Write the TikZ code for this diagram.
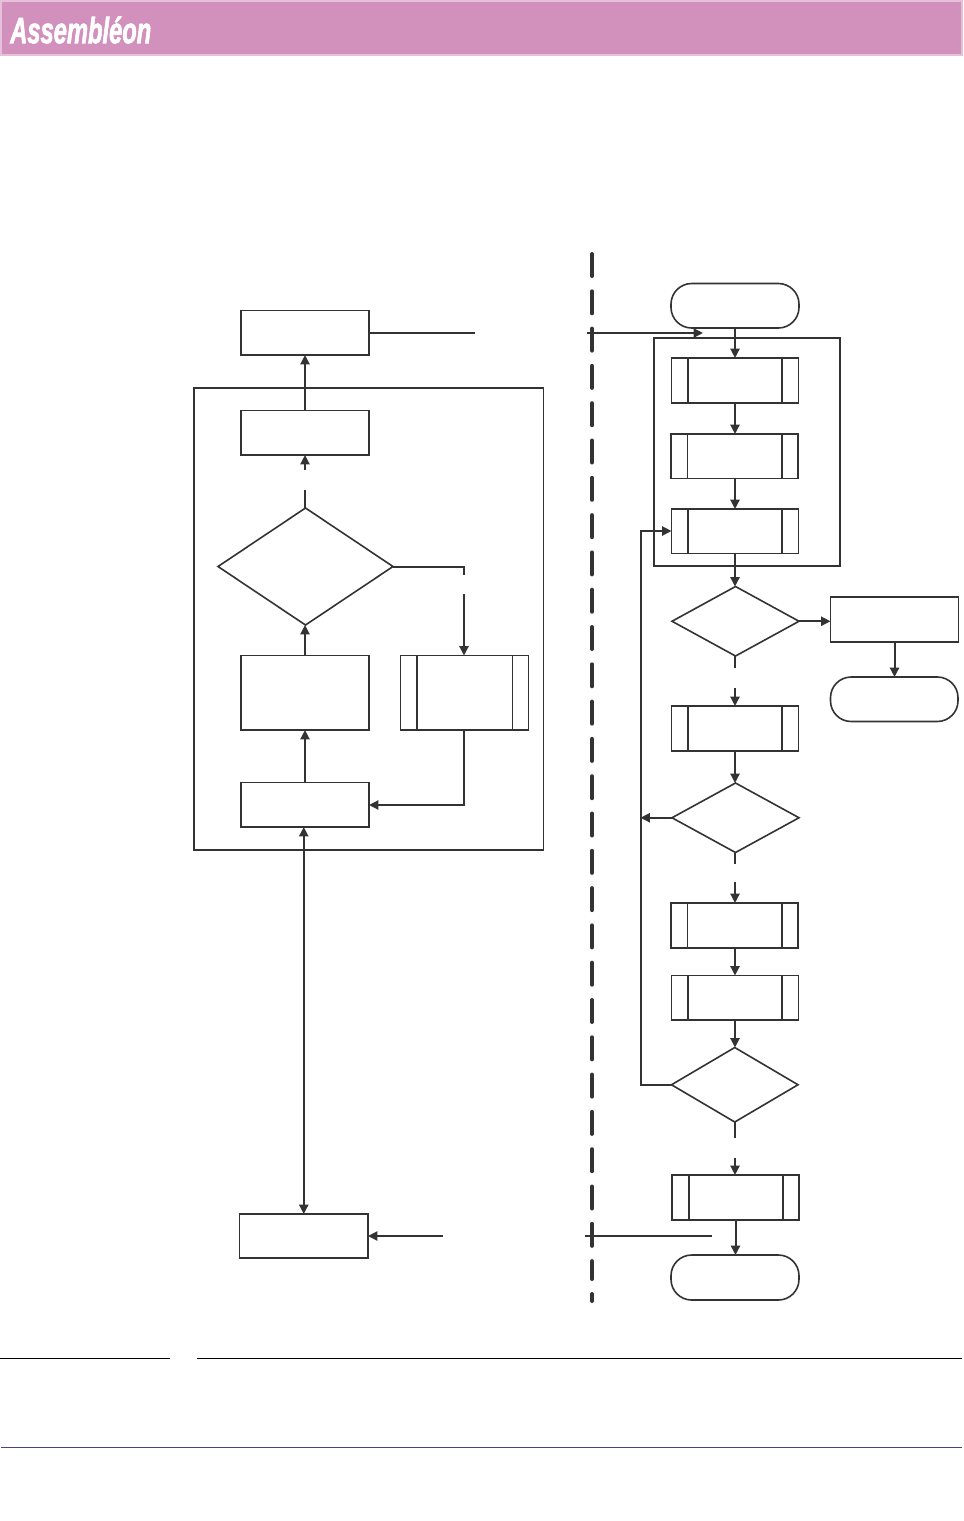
\documentclass[tikz,border=0pt]{standalone}
\usepackage{fontspec}
\usepackage{graphicx}
\usetikzlibrary{arrows.meta,calc,shapes.geometric}
\newfontfamily\logofont[FakeBold=2.2]{Liberation Sans}
\definecolor{ink}{HTML}{333333}
\definecolor{banner}{HTML}{D291BC}
\definecolor{bannerEdge}{HTML}{E6C0D9}
\definecolor{footrule}{HTML}{44447F}
\tikzset{
  ln/.style={draw=ink,line width=1.2pt},
  plainbox/.style={rectangle,ln,outer sep=0pt,inner sep=0pt},
  termbox/.style={plainbox,rounded corners=15.5pt},
  framebox/.style={plainbox,line width=1.4pt},
  dia/.style={diamond,ln,outer sep=0pt,inner sep=0pt},
  conn/.style={draw=ink,line width=1.5pt},
  arr/.style={conn,-{Triangle[length=7pt,width=6.8pt]}},
  arrboth/.style={conn,{Triangle[length=7pt,width=6.8pt]}-{Triangle[length=7pt,width=6.8pt]}},
  thickbar/.style={draw=ink,line width=1.5pt},
  thinbar/.style={draw=ink,line width=0.8pt},
  divider/.style={draw=ink,line width=3pt,line cap=round}
}
\newcommand{\mkbox}[6]{%
  \pgfmathsetmacro\cxx{(#3+#5)/2}\pgfmathsetmacro\cyy{(#4+#6)/2}%
  \pgfmathsetmacro\www{(#5-#3)*0.75}\pgfmathsetmacro\hhh{(#6-#4)*0.75}%
  \node[#1,minimum width=\www pt,minimum height=\hhh pt] (#2) at (\cxx,\cyy) {};}
\newcommand{\mkdia}[5]{%
  \pgfmathsetmacro\cxx{(#2+#4)/2}\pgfmathsetmacro\cyy{(#3+#5)/2}%
  \pgfmathsetmacro\www{(#4-#2)*0.75}\pgfmathsetmacro\hhh{(#5-#3)*0.75}%
  \pgfmathsetmacro\asp{(#4-#2)/(#5-#3)}%
  \node[dia,aspect=\asp,minimum width=\www pt,minimum height=\hhh pt] (#1) at (\cxx,\cyy) {};}
\newcommand{\mksub}[9]{% name x1 y1 x2 y2 leftoffset leftstyle rightoffset rightstyle
  \mkbox{plainbox}{#1}{#2}{#3}{#4}{#5}%
  \draw[#7] ($(#1.north west)+(#6,0)$) -- ($(#1.south west)+(#6,0)$);
  \draw[#9] ($(#1.north east)+(-#8,0)$) -- ($(#1.south east)+(-#8,0)$);}
\begin{document}
\begin{tikzpicture}[x=0.75pt,y=-0.75pt]
\useasboundingbox (0,0) rectangle (964,1521);
% banner
\mkbox{rectangle,fill=banner,draw=bannerEdge,line width=0.8pt,outer sep=0pt}{bannerbox}{1}{1}{962}{55}
\node[anchor=west,inner sep=0pt,text=white] (logo) at (10,30)
  {\resizebox{105.75pt}{20pt}{\logofont\bfseries\itshape Assembl\'eon}};
% frames
\mkbox{framebox}{leftframe}{194}{388}{543.5}{850}
\mkbox{framebox}{rightframe}{654}{338}{840}{566}
% left column
\mkbox{plainbox}{topL}{241}{310.5}{369}{355}
\mkbox{plainbox}{boxB}{241}{410.5}{369}{455}
\mkdia{diaL}{218}{508}{393}{625}
\mkbox{plainbox}{boxC}{241}{655.5}{369}{730}
\mksub{subL}{400.5}{655.5}{528.5}{730}{16.5}{thickbar}{16}{thinbar}
\mkbox{plainbox}{boxD}{241}{782.5}{369}{827}
\mkbox{plainbox}{boxE}{239.5}{1214}{368}{1258}
% right column
\mkbox{termbox}{startT}{671}{283.5}{799}{328}
\mksub{pA}{671.5}{358}{798.5}{403}{16.5}{thickbar}{16.5}{thickbar}
\mksub{pB}{671}{434}{798}{478.5}{16.5}{thinbar}{16.5}{thickbar}
\mksub{pC}{671.5}{509}{798.5}{553.5}{16.5}{thickbar}{16.5}{thickbar}
\mkdia{diaA}{672}{586.5}{799}{656}
\mkbox{plainbox}{boxR}{830.5}{597}{958.5}{642}
\mkbox{termbox}{termR}{830.5}{677}{958}{721.5}
\mksub{pD}{671.5}{706}{798.5}{751}{16.5}{thickbar}{16.5}{thickbar}
\mkdia{diaB}{672}{783}{799}{852.5}
\mksub{pE}{671}{903}{798}{948}{16.5}{thinbar}{16.5}{thickbar}
\mksub{pF}{671.5}{975.5}{798.5}{1020}{16.5}{thickbar}{16.5}{thickbar}
\mkdia{diaC}{671.5}{1047.5}{798}{1122}
\mksub{pG}{672}{1175}{799}{1220}{16.5}{thickbar}{16.5}{thickbar}
\mkbox{termbox}{endT}{671}{1255}{799}{1300}
% free ends
\coordinate (aOutEnd) at (475,333);
\coordinate (aInStart) at (587,333);
\coordinate (aInEnd) at (703,333);
\coordinate (colL) at (305,0);
\coordinate (colR) at (735,0);
\coordinate (bUpEnd) at (305,490);
\coordinate (bUpStart) at (305,470);
\coordinate (rTurn) at (464,567);
\coordinate (rStop) at (464,575);
\coordinate (rRestart) at (464,594);
\coordinate (subTurn) at (464,805);
\coordinate (eInStart) at (443,1236);
\coordinate (eOutStart) at (585,1236);
\coordinate (eOutEnd) at (712,1236);
\coordinate (d1Stop) at (735,668);
\coordinate (d1Restart) at (735,688);
\coordinate (d2Stop) at (735,864);
\coordinate (d2Restart) at (735,882);
\coordinate (d3Stop) at (735,1138);
\coordinate (d3Restart) at (735,1158);
\coordinate (busBottom) at (640.5,1085);
\coordinate (busTop) at (640.5,531);
\coordinate (busTap) at (640.5,817);
\coordinate (dashTop) at (592,254);
\coordinate (dashMid) at (592,1279);
\coordinate (dashTailA) at (592,1294);
\coordinate (dashTailB) at (592,1301);
% left connectors
\draw[arr] (boxB.north -| colL) -- (topL.south -| colL);
\draw[conn] (diaL.north -| colL) -- (bUpEnd);
\draw[arr] (bUpStart) -- (boxB.south -| colL);
\draw[conn] (diaL.east) -- (diaL.east -| rTurn) -- (rStop);
\draw[arr] (rRestart) -- (subL.north -| rRestart);
\draw[arr] (boxC.north -| colL) -- (diaL.south -| colL);
\draw[arr] (boxD.north -| colL) -- (boxC.south -| colL);
\draw[arr] (subL.south -| subTurn) -- (subTurn) -- (boxD.east |- subTurn);
\draw[arrboth] (boxE.north) -- (boxE.north |- boxD.south);
\draw[arr] (eInStart) -- (boxE.east |- eInStart);
\draw[conn] (eOutStart) -- (eOutEnd);
\draw[conn] (topL.east |- aOutEnd) -- (aOutEnd);
\draw[arr] (aInStart) -- (aInEnd);
% right connectors
\draw[arr] (startT.south -| colR) -- (pA.north -| colR);
\draw[arr] (pA.south -| colR) -- (pB.north -| colR);
\draw[arr] (pB.south -| colR) -- (pC.north -| colR);
\draw[arr] (pC.south -| colR) -- (diaA.north -| colR);
\draw[arr] (diaA.east) -- (boxR.west |- diaA.east);
\draw[arr] (boxR.south) -- (termR.north -| boxR.south);
\draw[conn] (diaA.south -| colR) -- (d1Stop);
\draw[arr] (d1Restart) -- (pD.north -| colR);
\draw[arr] (pD.south -| colR) -- (diaB.north -| colR);
\draw[arr] (diaB.west) -- (busTap |- diaB.west);
\draw[conn] (diaB.south -| colR) -- (d2Stop);
\draw[arr] (d2Restart) -- (pE.north -| colR);
\draw[arr] (pE.south -| colR) -- (pF.north -| colR);
\draw[arr] (pF.south -| colR) -- (diaC.north -| colR);
\draw[conn] (diaC.south -| colR) -- (d3Stop);
\draw[arr] (d3Restart) -- (pG.north -| colR);
\draw[arr] (pG.south) -- (endT.north -| pG.south);
\draw[arr] (diaC.west) -- (busBottom |- diaC.west) -- (busTop) -- (pC.west |- busTop);
% divider
\draw[divider,dash pattern=on 16.5pt off 11.475pt] (dashTop) -- (dashMid);
\draw[divider] (dashTailA) -- (dashTailB);
% footer rules
\draw[black,line width=0.8pt] (0,1358.5) coordinate (ruleA) -- (170,1358.5) coordinate (ruleB);
\draw[black,line width=0.8pt] (197,1358.5) coordinate (ruleC) -- (962,1358.5) coordinate (ruleD);
\draw[footrule,line width=0.8pt] (1,1447.5) coordinate (ruleE) -- (962,1447.5) coordinate (ruleF);
\end{tikzpicture}
\end{document}
